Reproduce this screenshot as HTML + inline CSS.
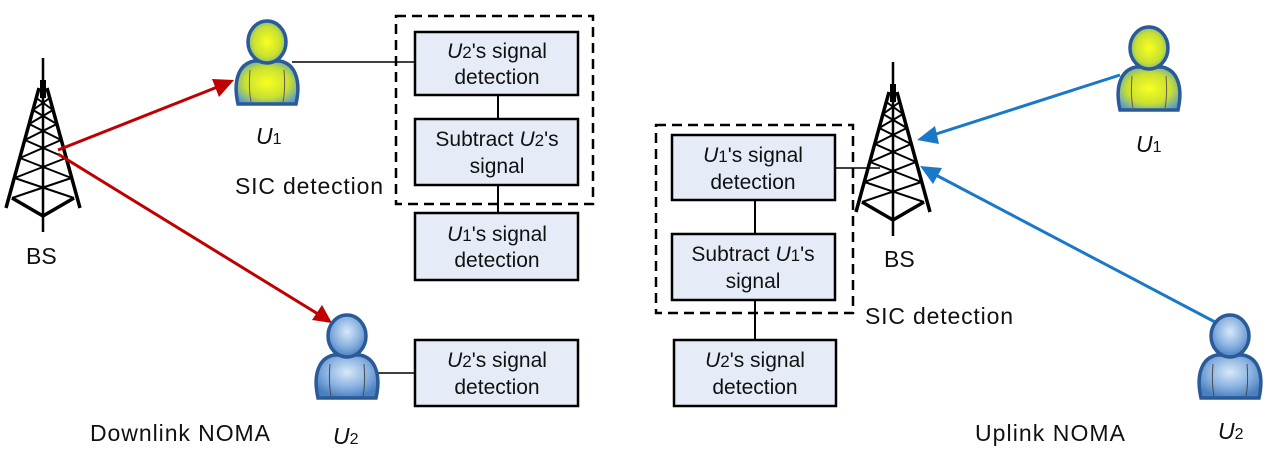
<!DOCTYPE html>
<html><head><meta charset="utf-8">
<style>
body{margin:0;background:#fff;}
svg{display:block;font-family:"Liberation Sans",Arial,sans-serif;}
.bx{fill:#e6ecf7;stroke:#000;stroke-width:2.5;}
.t{font-size:21px;fill:#111;text-anchor:middle;}
.l{font-size:23px;fill:#111;}
</style></head><body>
<svg width="1280" height="455" viewBox="0 0 1280 455">
<defs>
<radialGradient id="gy" cx="0.5" cy="0.5" r="0.6"><stop offset="0" stop-color="#f8ff20"/><stop offset="0.6" stop-color="#c8e030"/><stop offset="1" stop-color="#5a9ad0"/></radialGradient>
<radialGradient id="gb" cx="0.5" cy="0.4" r="0.6"><stop offset="0" stop-color="#d8e8f8"/><stop offset="0.6" stop-color="#88b0e0"/><stop offset="1" stop-color="#4a80c0"/></radialGradient>
<g id="tower" stroke="#000" fill="none" stroke-width="2.5">
<line x1="0" y1="0" x2="0" y2="174"/>
<rect x="-3" y="22" width="6" height="18" fill="#000" stroke="none"/>
<line x1="-4" y1="30" x2="-37" y2="150" stroke-width="3.5"/>
<line x1="4" y1="30" x2="37" y2="150" stroke-width="3.5"/>
<polyline points="-31,140 0,158 31,140" stroke-width="3.5"/>
<g stroke-width="2">
<line x1="-6.7" y1="40" x2="10" y2="52"/><line x1="6.7" y1="40" x2="-10" y2="52"/>
<line x1="-10" y1="52" x2="13.8" y2="66"/><line x1="10" y1="52" x2="-13.8" y2="66"/>
<line x1="-13.8" y1="66" x2="18.1" y2="82"/><line x1="13.8" y1="66" x2="-18.1" y2="82"/>
<line x1="-18.1" y1="82" x2="23" y2="100"/><line x1="18.1" y1="82" x2="-23" y2="100"/>
<line x1="-23" y1="100" x2="28.4" y2="120"/><line x1="23" y1="100" x2="-28.4" y2="120"/>
<line x1="-28.4" y1="120" x2="31" y2="140"/><line x1="28.4" y1="120" x2="-31" y2="140"/>
</g></g>
<g id="py" stroke="#2a5a98" stroke-width="3.5">
<path d="M3,84 C-2,62 3,44 19,41 L45,41 C61,44 66,62 61,84 Z" fill="url(#gy)"/>
<path d="M15,50 C14,62 14,72 16,82 M49,50 C50,62 50,72 48,82" stroke="#6a5a50" stroke-width="1" fill="none"/>
<ellipse cx="32" cy="22" rx="19" ry="21" fill="url(#gy)"/>
</g>
<g id="pb" stroke="#2a5a98" stroke-width="3.5">
<path d="M3,84 C-2,62 3,44 19,41 L45,41 C61,44 66,62 61,84 Z" fill="url(#gb)"/>
<path d="M15,50 C14,62 14,72 16,82 M49,50 C50,62 50,72 48,82" stroke="#4a4a50" stroke-width="1" fill="none"/>
<ellipse cx="32" cy="22" rx="19" ry="21" fill="url(#gb)"/>
</g>
</defs>

<!-- LEFT -->
<use href="#tower" x="43" y="58"/>
<text class="l" x="26" y="264">BS</text>
<line x1="58" y1="150" x2="220" y2="86" stroke="#c00000" stroke-width="3"/>
<path d="M234,80 L212,79 L219,97 Z" fill="#c00000"/>
<line x1="58" y1="154" x2="318" y2="314" stroke="#c00000" stroke-width="3"/>
<path d="M332,323 L312,320 L322,305 Z" fill="#c00000"/>
<line x1="292" y1="62" x2="415" y2="62" stroke="#000" stroke-width="1.5"/>
<use href="#py" x="235" y="20"/>
<text class="l" x="256" y="144" font-style="italic">U<tspan font-style="normal" font-size="16">1</tspan></text>
<rect x="396" y="16" width="197" height="188" fill="none" stroke="#000" stroke-width="2.5" stroke-dasharray="10,6"/>
<line x1="498" y1="95" x2="498" y2="213" stroke="#000" stroke-width="2"/>
<rect class="bx" x="415" y="32" width="163" height="63"/>
<text class="t" x="497" y="58"><tspan font-style="italic">U</tspan><tspan font-size="17">2</tspan>'s signal</text>
<text class="t" x="497" y="84">detection</text>
<rect class="bx" x="415" y="119" width="163" height="66"/>
<text class="t" x="497" y="146">Subtract <tspan font-style="italic">U</tspan><tspan font-size="17">2</tspan>'s</text>
<text class="t" x="497" y="173">signal</text>
<text class="l" x="235" y="194" textLength="148">SIC detection</text>
<rect class="bx" x="415" y="213" width="163" height="67"/>
<text class="t" x="497" y="241"><tspan font-style="italic">U</tspan><tspan font-size="17">1</tspan>'s signal</text>
<text class="t" x="497" y="267">detection</text>
<line x1="375" y1="373" x2="415" y2="373" stroke="#000" stroke-width="1.5"/>
<use href="#pb" x="315" y="314"/>
<text class="l" x="333" y="444" font-style="italic">U<tspan font-style="normal" font-size="16">2</tspan></text>
<rect class="bx" x="415" y="340" width="163" height="66"/>
<text class="t" x="497" y="367"><tspan font-style="italic">U</tspan><tspan font-size="17">2</tspan>'s signal</text>
<text class="t" x="497" y="394">detection</text>
<text class="l" x="90" y="441" textLength="180">Downlink NOMA</text>

<!-- RIGHT -->
<use href="#tower" x="893" y="62"/>
<text class="l" x="884" y="267">BS</text>
<line x1="1120" y1="75" x2="933" y2="135" stroke="#1a78c8" stroke-width="3"/>
<path d="M917,140 L935,126 L939,144 Z" fill="#1a78c8"/>
<line x1="1215" y1="322" x2="934" y2="174" stroke="#1a78c8" stroke-width="3"/>
<path d="M920,166 L942,168 L933,184 Z" fill="#1a78c8"/>
<use href="#py" x="1117" y="26"/>
<text class="l" x="1136" y="152" font-style="italic">U<tspan font-style="normal" font-size="16">1</tspan></text>
<use href="#pb" x="1198" y="314"/>
<text class="l" x="1218" y="439" font-style="italic">U<tspan font-style="normal" font-size="16">2</tspan></text>
<rect x="656" y="125" width="197" height="188" fill="none" stroke="#000" stroke-width="2.5" stroke-dasharray="10,6"/>
<line x1="835" y1="168" x2="880" y2="168" stroke="#000" stroke-width="1.5"/>
<line x1="755" y1="200" x2="755" y2="340" stroke="#000" stroke-width="2"/>
<rect class="bx" x="672" y="135" width="163" height="65"/>
<text class="t" x="753" y="162"><tspan font-style="italic">U</tspan><tspan font-size="17">1</tspan>'s signal</text>
<text class="t" x="753" y="189">detection</text>
<rect class="bx" x="672" y="234" width="163" height="66"/>
<text class="t" x="753" y="261">Subtract <tspan font-style="italic">U</tspan><tspan font-size="17">1</tspan>'s</text>
<text class="t" x="753" y="288">signal</text>
<text class="l" x="865" y="324" textLength="148">SIC detection</text>
<rect class="bx" x="674" y="340" width="162" height="66"/>
<text class="t" x="755" y="367"><tspan font-style="italic">U</tspan><tspan font-size="17">2</tspan>'s signal</text>
<text class="t" x="755" y="394">detection</text>
<text class="l" x="975" y="441" textLength="150">Uplink NOMA</text>
</svg>
</body></html>
